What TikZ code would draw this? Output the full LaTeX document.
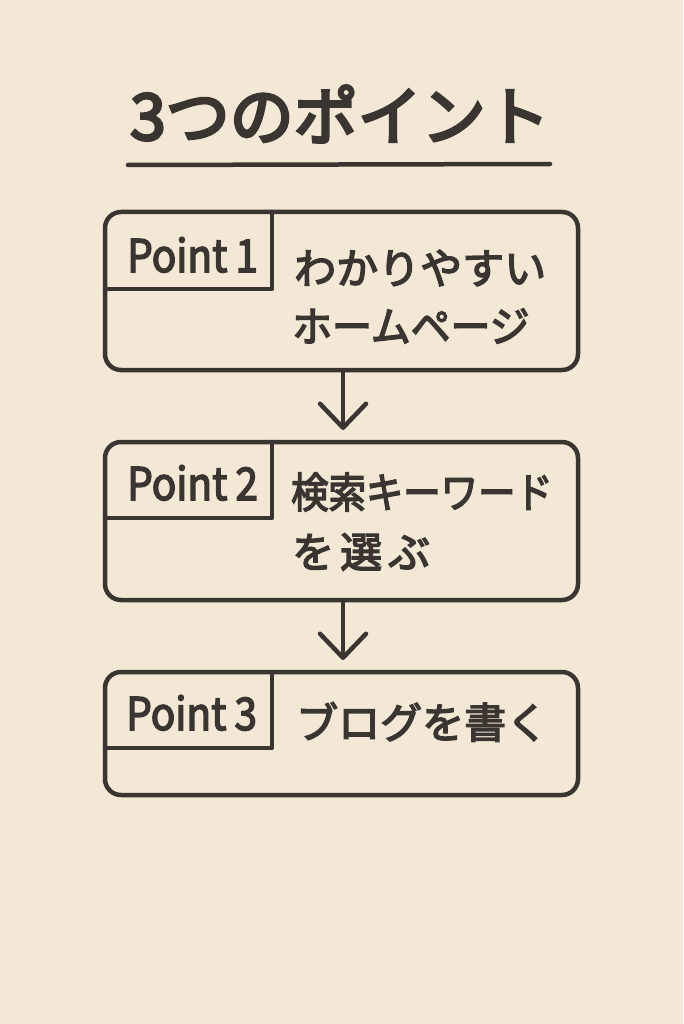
\documentclass[tikz,border=0pt]{standalone}
\usepackage{fontspec}
\newfontfamily\jpfont[FakeBold=3.5]{Noto Sans CJK JP}
\newfontfamily\jptitle[FakeBold=4.5]{Noto Sans CJK JP}
\usetikzlibrary{arrows.meta}
\definecolor{paper}{HTML}{F2E8D5}
\definecolor{ink}{HTML}{3A3531}
\tikzset{
  box/.style={draw=ink, line width=4.5pt, rounded corners=16pt, minimum width=473pt, inner sep=0pt},
  divider/.style={draw=ink, line width=4.5pt, line cap=round, line join=round},
  lab/.style={text=ink, font=\jpfont\fontsize{45}{48}\selectfont, inner sep=0pt, anchor=base west},
  txt/.style={text=ink, font=\jpfont\fontsize{42}{46}\selectfont, inner sep=0pt, anchor=west},
  flow/.style={draw=ink, line width=4.5pt, line cap=round, -{Straight Barb[length=24pt,width=46pt,line cap=round,line join=round]}}
}
\newcommand\pointlab[1]{\scalebox{0.9}[1]{Point\hspace{9pt}#1}}
\begin{document}
\begin{tikzpicture}[x=1pt,y=-1pt]
\fill[paper] (0,0) rectangle (683,1024);
\useasboundingbox (0,0) rectangle (683,1024);
% title
\node[text=ink, font=\jptitle\fontsize{64}{70}\selectfont, inner sep=0pt] (title) at (340,114) {3つのポイント};
\coordinate (ul1) at (128,165);
\coordinate (ul2) at (550,164);
\draw[divider] (ul1) -- (ul2);
% box 1
\node[box, minimum height=158pt] (b1) at (341.5,291) {};
\draw[divider] (272,212) -- (272,289) -- (105,289);
\node[lab] (p1) at (127,272) {\pointlab{1}};
\node[txt] (t1a) at (294,268) {わかりやすい};
\node[txt] (t1b) at (292,326) {\scalebox{0.95}[1]{ホームページ}};
% box 2
\node[box, minimum height=158pt] (b2) at (341.5,521) {};
\draw[divider] (272,442) -- (272,518) -- (105,518);
\node[lab] (p2) at (127,500) {\pointlab{2}};
\node[txt] (t2a) at (291,492) {\scalebox{0.89}[1]{検索キーワード}};
\node[txt] (t2b) at (292,552) {を\hspace{6pt}選\hspace{6pt}ぶ};
% box 3
\node[box, minimum height=123pt] (b3) at (341.5,733.5) {};
\draw[divider] (272,672) -- (272,748) -- (105,748);
\node[lab] (p3) at (126,730) {\pointlab{3}};
\node[txt] (t3) at (296,722) {ブログを書く};
% arrows
\draw[flow] (b1.south -| 343,0) -- (343,430);
\draw[flow] (b2.south -| 343,0) -- (343,660);
\end{tikzpicture}
\end{document}
